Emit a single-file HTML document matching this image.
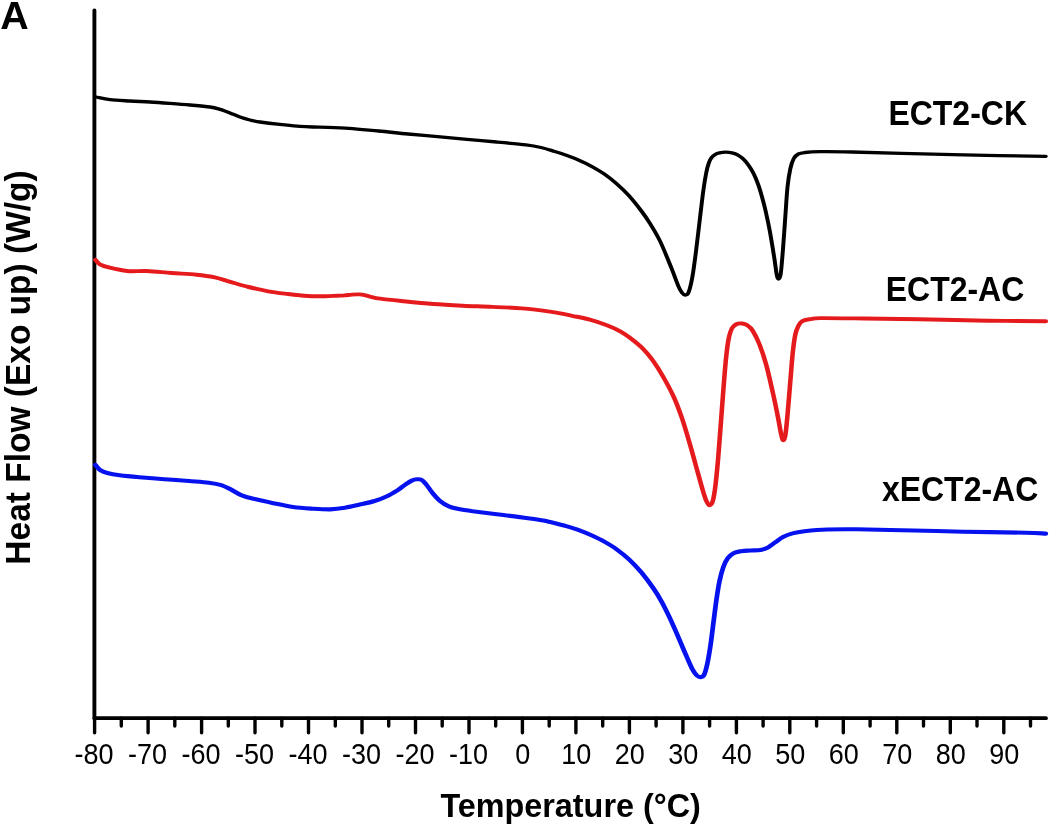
<!DOCTYPE html>
<html><head><meta charset="utf-8"><title>DSC</title>
<style>
html,body{margin:0;padding:0;background:#fff;}
body{width:1050px;height:825px;overflow:hidden;}
svg{display:block;font-family:"Liberation Sans",sans-serif;}
.b{font-weight:bold;}
</style></head><body>
<svg width="1050" height="825" viewBox="0 0 1050 825">
<rect width="1050" height="825" fill="#fff"/>
<g stroke="#000" stroke-width="3.9" stroke-linecap="round">
<line x1="94.4" y1="10.5" x2="94.4" y2="718.2"/>
<line x1="94.6" y1="718.2" x2="1046" y2="718.2" stroke-width="3.7"/>
</g>
<g stroke="#000" stroke-width="3.4" stroke-linecap="round"><line x1="94.6" y1="718.2" x2="94.6" y2="732.8"/><line x1="121.3" y1="718.2" x2="121.3" y2="726.1"/><line x1="148.1" y1="718.2" x2="148.1" y2="732.8"/><line x1="174.8" y1="718.2" x2="174.8" y2="726.1"/><line x1="201.6" y1="718.2" x2="201.6" y2="732.8"/><line x1="228.3" y1="718.2" x2="228.3" y2="726.1"/><line x1="255.0" y1="718.2" x2="255.0" y2="732.8"/><line x1="281.8" y1="718.2" x2="281.8" y2="726.1"/><line x1="308.5" y1="718.2" x2="308.5" y2="732.8"/><line x1="335.3" y1="718.2" x2="335.3" y2="726.1"/><line x1="362.0" y1="718.2" x2="362.0" y2="732.8"/><line x1="388.7" y1="718.2" x2="388.7" y2="726.1"/><line x1="415.5" y1="718.2" x2="415.5" y2="732.8"/><line x1="442.2" y1="718.2" x2="442.2" y2="726.1"/><line x1="469.0" y1="718.2" x2="469.0" y2="732.8"/><line x1="495.7" y1="718.2" x2="495.7" y2="726.1"/><line x1="522.4" y1="718.2" x2="522.4" y2="732.8"/><line x1="549.2" y1="718.2" x2="549.2" y2="726.1"/><line x1="575.9" y1="718.2" x2="575.9" y2="732.8"/><line x1="602.7" y1="718.2" x2="602.7" y2="726.1"/><line x1="629.4" y1="718.2" x2="629.4" y2="732.8"/><line x1="656.1" y1="718.2" x2="656.1" y2="726.1"/><line x1="682.9" y1="718.2" x2="682.9" y2="732.8"/><line x1="709.6" y1="718.2" x2="709.6" y2="726.1"/><line x1="736.4" y1="718.2" x2="736.4" y2="732.8"/><line x1="763.1" y1="718.2" x2="763.1" y2="726.1"/><line x1="789.8" y1="718.2" x2="789.8" y2="732.8"/><line x1="816.6" y1="718.2" x2="816.6" y2="726.1"/><line x1="843.3" y1="718.2" x2="843.3" y2="732.8"/><line x1="870.1" y1="718.2" x2="870.1" y2="726.1"/><line x1="896.8" y1="718.2" x2="896.8" y2="732.8"/><line x1="923.5" y1="718.2" x2="923.5" y2="726.1"/><line x1="950.3" y1="718.2" x2="950.3" y2="732.8"/><line x1="977.0" y1="718.2" x2="977.0" y2="726.1"/><line x1="1003.8" y1="718.2" x2="1003.8" y2="732.8"/><line x1="1030.5" y1="718.2" x2="1030.5" y2="726.1"/></g>
<g font-size="27" text-anchor="middle" fill="#000"><text transform="translate(94.1,763.5) scale(1,1.09)">-80</text><text transform="translate(147.6,763.5) scale(1,1.09)">-70</text><text transform="translate(201.1,763.5) scale(1,1.09)">-60</text><text transform="translate(254.5,763.5) scale(1,1.09)">-50</text><text transform="translate(308.0,763.5) scale(1,1.09)">-40</text><text transform="translate(361.5,763.5) scale(1,1.09)">-30</text><text transform="translate(415.0,763.5) scale(1,1.09)">-20</text><text transform="translate(468.5,763.5) scale(1,1.09)">-10</text><text transform="translate(522.8,763.5) scale(1,1.09)">0</text><text transform="translate(576.3,763.5) scale(1,1.09)">10</text><text transform="translate(629.8,763.5) scale(1,1.09)">20</text><text transform="translate(683.3,763.5) scale(1,1.09)">30</text><text transform="translate(736.8,763.5) scale(1,1.09)">40</text><text transform="translate(790.2,763.5) scale(1,1.09)">50</text><text transform="translate(843.7,763.5) scale(1,1.09)">60</text><text transform="translate(897.2,763.5) scale(1,1.09)">70</text><text transform="translate(950.7,763.5) scale(1,1.09)">80</text><text transform="translate(1004.2,763.5) scale(1,1.09)">90</text></g>
<g fill="none" stroke-linecap="round" stroke-linejoin="round">
<path transform="scale(1.2,1)" d="M80.00,97.0C81.94,97.4 86.94,98.9 91.67,99.6C96.39,100.3 102.78,100.6 108.33,101.0C113.89,101.4 119.44,101.6 125.00,102.0C130.56,102.4 136.11,102.9 141.67,103.4C147.22,103.9 152.78,104.4 158.33,105.0C163.89,105.6 170.83,106.3 175.00,107.0C179.17,107.7 180.56,108.4 183.33,109.4C186.11,110.4 188.89,111.7 191.67,113.0C194.44,114.3 197.22,115.8 200.00,117.0C202.78,118.2 205.56,119.2 208.33,120.0C211.11,120.8 212.50,121.3 216.67,122.0C220.83,122.7 227.78,123.7 233.33,124.4C238.89,125.1 244.51,125.9 250.00,126.4C255.49,126.9 259.44,126.9 266.25,127.2C273.06,127.5 282.62,127.7 290.83,128.3C299.04,128.9 307.31,130.1 315.50,131.0C323.69,131.9 331.81,133.1 340.00,134.0C348.19,134.9 356.47,135.7 364.67,136.6C372.86,137.5 380.96,138.4 389.17,139.3C397.38,140.2 405.72,141.1 413.92,142.0C422.11,142.9 432.18,144.0 438.33,144.9C444.49,145.8 446.83,146.4 450.83,147.5C454.83,148.6 458.72,150.2 462.33,151.5C465.94,152.8 469.07,154.1 472.50,155.6C475.93,157.1 479.44,158.7 482.92,160.5C486.39,162.3 489.89,164.3 493.33,166.6C496.78,168.9 500.18,171.2 503.58,174.1C506.99,176.9 510.32,180.1 513.75,183.7C517.18,187.3 520.71,191.2 524.17,195.8C527.63,200.4 531.58,206.4 534.50,211.0C537.42,215.6 539.08,218.5 541.67,223.5C544.25,228.5 547.03,233.6 550.00,241.0C552.97,248.4 556.96,260.5 559.50,268.0C562.04,275.5 563.82,281.9 565.25,286.0C566.68,290.1 567.14,290.8 568.08,292.3C569.03,293.8 569.96,295.0 570.92,295.0C571.88,295.0 572.81,295.4 573.83,292.3C574.86,289.2 576.01,283.5 577.08,276.3C578.15,269.1 579.19,258.8 580.25,248.9C581.31,239.0 582.42,226.8 583.42,216.9C584.42,207.0 585.39,196.8 586.25,189.4C587.11,182.0 587.85,176.9 588.58,172.5C589.32,168.1 589.94,165.5 590.67,163.0C591.39,160.5 592.06,159.0 592.92,157.6C593.78,156.2 594.72,155.4 595.83,154.6C596.94,153.8 598.10,153.3 599.58,152.9C601.07,152.5 603.01,152.2 604.75,152.2C606.49,152.2 608.42,152.4 610.00,152.8C611.58,153.2 612.74,153.6 614.25,154.6C615.76,155.6 617.49,156.9 619.08,158.7C620.68,160.5 622.36,162.9 623.83,165.3C625.31,167.7 626.61,170.2 627.92,173.3C629.22,176.4 630.49,180.1 631.67,184.0C632.85,187.9 633.96,192.4 635.00,196.8C636.04,201.2 636.85,204.9 637.92,210.5C638.99,216.1 640.19,222.7 641.42,230.6C642.64,238.5 644.29,250.8 645.25,258.0C646.21,265.2 646.60,270.5 647.17,274.0C647.74,277.5 648.10,279.0 648.67,279.0C649.24,279.0 649.94,279.0 650.58,274.0C651.22,269.0 651.86,258.4 652.50,248.9C653.14,239.4 653.79,227.2 654.42,216.9C655.04,206.6 655.56,195.1 656.25,187.1C656.94,179.1 657.72,173.7 658.58,168.9C659.44,164.2 660.31,161.1 661.42,158.6C662.53,156.1 663.69,155.0 665.25,154.0C666.81,153.0 667.78,152.9 670.75,152.5C673.72,152.1 676.56,151.8 683.08,151.7C689.61,151.6 698.57,151.7 709.92,152.0C721.26,152.3 735.68,152.9 751.17,153.4C766.65,153.9 782.78,154.4 802.83,154.9C822.89,155.4 860.06,156.1 871.50,156.3" stroke="#000" stroke-width="3.3"/>
<path transform="scale(1.17,1)" d="M81.54,259.8C82.18,260.6 83.33,263.0 85.38,264.3C87.44,265.6 89.97,266.6 93.85,267.7C97.72,268.8 103.33,270.4 108.63,271.0C113.93,271.6 119.29,270.7 125.64,271.0C131.99,271.3 139.70,272.4 146.75,273.0C153.80,273.6 161.95,274.0 167.95,274.7C173.95,275.4 177.79,275.9 182.74,277.1C187.68,278.3 192.66,280.5 197.61,282.1C202.55,283.8 207.11,285.5 212.39,287.0C217.68,288.5 223.68,290.1 229.32,291.3C234.96,292.5 240.60,293.2 246.24,294.0C251.88,294.8 257.86,295.6 263.16,296.0C268.46,296.4 273.80,296.2 278.03,296.2C282.26,296.1 285.77,295.8 288.55,295.7C291.32,295.6 292.65,295.6 294.70,295.4C296.75,295.2 298.76,294.8 300.85,294.6C302.95,294.4 305.48,294.3 307.26,294.4C309.05,294.5 310.04,294.7 311.54,295.1C313.03,295.5 314.00,296.0 316.24,296.6C318.48,297.2 320.14,297.9 324.96,298.7C329.77,299.5 337.56,300.4 345.13,301.3C352.69,302.2 361.92,303.3 370.34,304.0C378.76,304.7 387.22,305.2 395.64,305.7C404.06,306.2 412.45,306.4 420.85,306.9C429.26,307.3 437.66,307.6 446.07,308.4C454.47,309.2 464.13,310.7 471.28,311.9C478.43,313.1 483.50,314.5 488.97,315.8C494.44,317.1 499.06,318.0 504.10,319.6C509.15,321.2 514.83,323.5 519.23,325.5C523.63,327.5 527.12,329.4 530.51,331.6C533.90,333.8 536.54,336.1 539.57,338.8C542.61,341.5 545.67,344.2 548.72,347.8C551.77,351.4 554.83,355.4 557.86,360.3C560.90,365.2 563.89,370.8 566.92,377.0C569.96,383.2 573.40,390.6 576.07,397.5C578.73,404.4 580.63,410.5 582.91,418.3C585.19,426.1 587.46,435.3 589.74,444.5C592.02,453.7 594.69,465.4 596.58,473.3C598.48,481.2 599.90,487.3 601.11,492.0C602.32,496.7 602.96,499.1 603.85,501.3C604.73,503.5 605.53,505.3 606.41,505.3C607.29,505.3 608.32,504.4 609.15,501.3C609.97,498.2 610.61,493.6 611.37,486.7C612.12,479.8 612.91,470.2 613.68,460.0C614.44,449.8 615.23,436.9 615.98,425.3C616.74,413.8 617.45,401.8 618.21,390.7C618.96,379.6 619.74,367.4 620.51,358.7C621.28,350.0 621.95,343.8 622.82,338.7C623.69,333.6 624.59,330.4 625.73,328.0C626.87,325.6 628.25,324.8 629.66,324.0C631.07,323.2 632.68,323.3 634.19,323.5C635.70,323.7 637.19,324.1 638.72,325.3C640.24,326.5 641.62,327.6 643.33,330.7C645.04,333.8 647.08,338.4 648.97,344.0C650.87,349.6 652.79,356.0 654.70,364.0C656.61,372.0 658.72,383.1 660.43,392.0C662.14,400.9 663.82,410.6 664.96,417.3C666.10,424.0 666.58,428.2 667.26,432.0C667.95,435.8 668.42,439.3 669.06,440.0C669.70,440.7 670.47,439.8 671.11,436.0C671.75,432.2 672.22,425.8 672.91,417.3C673.59,408.9 674.44,396.0 675.21,385.3C675.98,374.6 676.77,361.7 677.52,353.3C678.28,344.9 678.99,339.1 679.74,334.7C680.50,330.3 681.10,328.9 682.05,326.7C683.01,324.5 683.76,322.6 685.47,321.3C687.18,320.1 689.64,319.7 692.31,319.2C694.97,318.7 693.72,318.2 701.45,318.1C709.19,318.0 724.74,318.3 738.72,318.5C752.69,318.7 767.68,318.9 785.30,319.3C802.92,319.7 826.35,320.4 844.44,320.7C862.54,321.0 885.61,321.2 893.85,321.3" stroke="#e41a1c" stroke-width="3.9"/>
<path transform="scale(1.15,1)" d="M82.96,464.9C83.61,465.7 85.14,468.4 86.87,469.8C88.59,471.2 90.43,472.1 93.30,473.0C96.17,473.9 99.42,474.6 104.09,475.3C108.75,476.0 114.84,476.6 121.30,477.2C127.77,477.8 135.70,478.6 142.87,479.2C150.04,479.8 157.88,480.4 164.35,481.0C170.81,481.6 176.97,482.0 181.65,482.7C186.33,483.4 189.20,484.0 192.43,485.2C195.67,486.4 198.17,488.0 201.04,489.6C203.91,491.2 206.43,493.6 209.65,495.1C212.87,496.6 215.68,497.5 220.35,498.8C225.01,500.1 231.90,501.8 237.65,503.2C243.41,504.6 249.13,506.1 254.87,507.0C260.61,507.9 266.71,508.3 272.09,508.7C277.46,509.1 282.49,509.5 287.13,509.4C291.77,509.2 295.64,508.6 299.91,507.8C304.19,507.0 308.48,505.7 312.78,504.6C317.09,503.5 321.78,502.4 325.74,501.0C329.70,499.6 333.22,498.0 336.52,496.2C339.83,494.4 342.91,492.2 345.57,490.3C348.22,488.4 350.35,486.2 352.43,484.6C354.52,483.0 356.42,481.5 358.09,480.6C359.75,479.7 361.01,479.4 362.43,479.3C363.86,479.2 365.23,479.0 366.61,479.9C367.99,480.8 369.14,482.5 370.70,484.6C372.25,486.7 374.01,490.1 375.91,492.7C377.81,495.3 379.68,498.1 382.09,500.4C384.49,502.7 387.17,504.8 390.35,506.3C393.52,507.8 396.83,508.6 401.13,509.5C405.43,510.4 410.07,511.1 416.17,512.0C422.28,512.9 430.57,514.0 437.74,515.0C444.91,516.0 452.77,517.1 459.22,518.2C465.67,519.3 471.04,520.1 476.43,521.4C481.83,522.7 486.99,524.4 491.57,525.9C496.14,527.4 500.04,528.7 503.91,530.3C507.78,531.9 511.19,533.6 514.78,535.5C518.38,537.4 521.93,539.3 525.48,541.6C529.03,543.9 532.51,546.2 536.09,549.2C539.67,552.2 543.33,555.4 546.96,559.3C550.58,563.2 554.23,567.6 557.83,572.5C561.42,577.4 565.55,583.9 568.52,588.9C571.49,593.9 573.36,597.5 575.65,602.3C577.94,607.1 579.80,611.5 582.26,617.6C584.72,623.7 588.00,632.3 590.43,638.7C592.87,645.1 594.90,650.9 596.87,656.0C598.84,661.1 600.75,666.4 602.26,669.6C603.77,672.8 604.77,674.0 605.91,675.3C607.06,676.5 608.06,677.2 609.13,677.1C610.20,677.0 611.35,676.9 612.35,674.6C613.35,672.3 614.23,668.1 615.13,663.4C616.03,658.6 616.88,652.7 617.74,646.1C618.59,639.5 619.42,631.2 620.26,623.8C621.10,616.4 621.90,608.5 622.78,601.5C623.67,594.5 624.52,587.5 625.57,581.7C626.61,575.9 627.83,570.8 629.04,566.9C630.26,563.0 631.41,560.5 632.87,558.2C634.33,555.9 635.91,554.4 637.83,553.2C639.74,552.0 641.88,551.7 644.35,551.2C646.81,550.8 649.78,550.7 652.61,550.5C655.43,550.3 658.77,550.5 661.30,550.0C663.84,549.5 665.65,548.8 667.83,547.5C670.00,546.2 672.17,543.8 674.35,542.1C676.52,540.4 678.41,538.6 680.87,537.1C683.33,535.6 686.01,534.4 689.13,533.4C692.25,532.4 694.55,531.9 699.57,531.2C704.58,530.6 711.62,529.8 719.22,529.5C726.81,529.2 732.57,529.1 745.13,529.3C757.70,529.5 779.17,530.1 794.61,530.5C810.04,530.9 821.58,531.3 837.74,531.7C853.90,532.1 879.62,532.4 891.57,532.7C903.51,533.0 906.42,533.5 909.39,533.6" stroke="#0612ee" stroke-width="4.1"/>
</g>
<g class="b" fill="#000">
<text x="0.3" y="28.9" font-size="39.4">A</text>
<text transform="translate(888.4,124.8) scale(1,1.087)" font-size="32">ECT2-CK</text>
<text transform="translate(885.7,301.1) scale(1,1.087)" font-size="32">ECT2-AC</text>
<text transform="translate(881.9,501) scale(1,1.087)" font-size="32">xECT2-AC</text>
<text transform="translate(570.6,816.7) scale(1,1.04)" font-size="32.35" text-anchor="middle">Temperature (°C)</text>
<text transform="translate(30.3,367.5) rotate(-90) scale(1,1.057)" font-size="33.5" text-anchor="middle">Heat Flow (Exo up) (W/g)</text>
</g>
</svg>
</body></html>
